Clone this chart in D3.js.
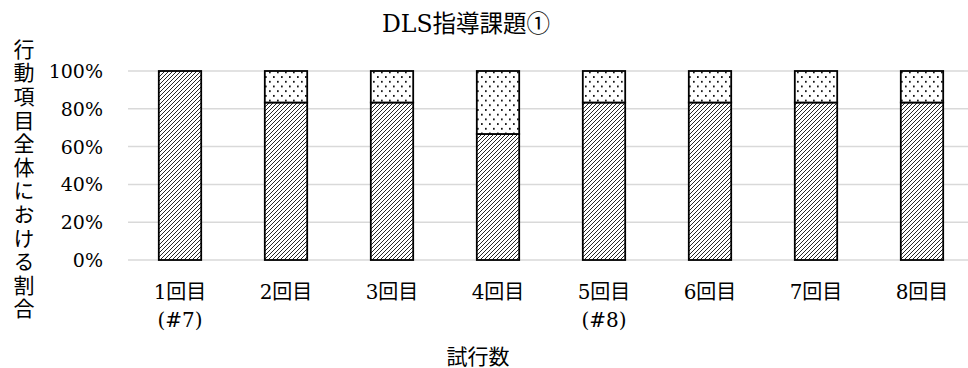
<!DOCTYPE html>
<html>
<head>
<meta charset="utf-8">
<script src="https://cdn.jsdelivr.net/npm/d3@7"></script>
<style>
  body { margin: 0; background: #fff; }
  svg { display: block; font-family: "DejaVu Serif", "Noto Sans CJK JP", serif; }
</style>
</head>
<body>
<svg id="chart" width="968" height="368"></svg>
<script>
// data
const trials = ['1回目', '2回目', '3回目', '4回目', '5回目', '6回目', '7回目', '8回目']
const subLabels = ['(#7)', '', '', '', '(#8)', '', '', '']
const achieved = [1, 0.8333, 0.8333, 0.6667, 0.8333, 0.8333, 0.8333, 0.8333]
const notAchieved = [0, 0.1667, 0.1667, 0.3333, 0.1667, 0.1667, 0.1667, 0.1667]
const yTicks = [0, 0.2, 0.4, 0.6, 0.8, 1]

const svg = d3.select('#chart')
const width = 968

const defs = svg.append('defs')
const hatch = defs.append('pattern')
  .attr('id', 'hatch')
  .attr('patternUnits', 'userSpaceOnUse')
  .attr('width', 4).attr('height', 4)
hatch.append('rect').attr('width', 4).attr('height', 4).attr('fill', '#fff')
hatch.append('path')
  .attr('d', 'M-1,1 L1,-1 M0,4 L4,0 M3,5 L5,3')
  .attr('stroke', '#000').attr('stroke-width', 0.85)

const dots = defs.append('pattern')
  .attr('id', 'dots')
  .attr('patternUnits', 'userSpaceOnUse')
  .attr('width', 8).attr('height', 9.4)
dots.append('rect').attr('width', 8).attr('height', 9.4).attr('fill', '#fff')
dots.append('rect').attr('x', 1).attr('y', 1).attr('width', 1.7).attr('height', 1.7).attr('fill', '#000')
dots.append('rect').attr('x', 5).attr('y', 5.7).attr('width', 1.7).attr('height', 1.7).attr('fill', '#000')

const x = d3.scaleBand()
  .domain(trials)
  .range([127, 975])
  .paddingInner(0.6)
  .paddingOuter(0.3)

const y = d3.scaleLinear()
  .domain([0, 1])
  .range([260, 71])

// gridlines
svg.append('g')
  .selectAll('line')
  .data(yTicks)
  .enter().append('line')
  .attr('x1', 128).attr('x2', width)
  .attr('y1', (d) => y(d)).attr('y2', (d) => y(d))
  .attr('stroke', '#d9d9d9')
  .attr('stroke-width', 1.5)

// tick labels
svg.append('g')
  .selectAll('text')
  .data(yTicks)
  .enter().append('text')
  .attr('x', 103)
  .attr('y', (d) => y(d) + 7)
  .attr('text-anchor', 'end')
  .attr('font-size', 19)
  .attr('fill', '#000')
  .text((d) => d3.format('.0%')(d))

const bars = svg.append('g')
trials.forEach((t, i) => {
  bars.append('rect')
    .attr('x', x(t))
    .attr('y', y(achieved[i]))
    .attr('width', x.bandwidth())
    .attr('height', y(0) - y(achieved[i]))
    .attr('fill', 'url(#hatch)')
    .attr('stroke', '#000')
    .attr('stroke-width', 1.8)
  if (notAchieved[i] > 0) {
    bars.append('rect')
      .attr('x', x(t))
      .attr('y', y(achieved[i] + notAchieved[i]))
      .attr('width', x.bandwidth())
      .attr('height', y(achieved[i]) - y(achieved[i] + notAchieved[i]))
      .attr('fill', 'url(#dots)')
      .attr('stroke', '#000')
      .attr('stroke-width', 1.8)
  }
})

// category labels
const xl = svg.append('g')
  .attr('font-size', 20)
  .attr('text-anchor', 'middle')
xl.selectAll('text.cat')
  .data(trials)
  .enter().append('text')
  .attr('class', 'cat')
  .attr('x', (d) => x(d) + x.bandwidth() / 2)
  .attr('y', 299)
  .text((d) => d)
xl.selectAll('text.sub')
  .data(trials)
  .enter().append('text')
  .attr('class', 'sub')
  .attr('x', (d) => x(d) + x.bandwidth() / 2)
  .attr('y', 327)
  .text((d, i) => subLabels[i])

// titles
svg.append('text')
  .attr('x', 466).attr('y', 32)
  .attr('text-anchor', 'middle')
  .attr('font-size', 23.5)
  .text('DLS指導課題①')

svg.append('text')
  .attr('x', 478).attr('y', 364)
  .attr('text-anchor', 'middle')
  .attr('font-size', 21)
  .text('試行数')

svg.append('text')
  .attr('x', 22).attr('y', 180)
  .attr('text-anchor', 'middle')
  .attr('font-size', 21)
  .style('writing-mode', 'vertical-rl')
  .style('letter-spacing', '2.6px')
  .text('行動項目全体における割合')
</script>
</body>
</html>
